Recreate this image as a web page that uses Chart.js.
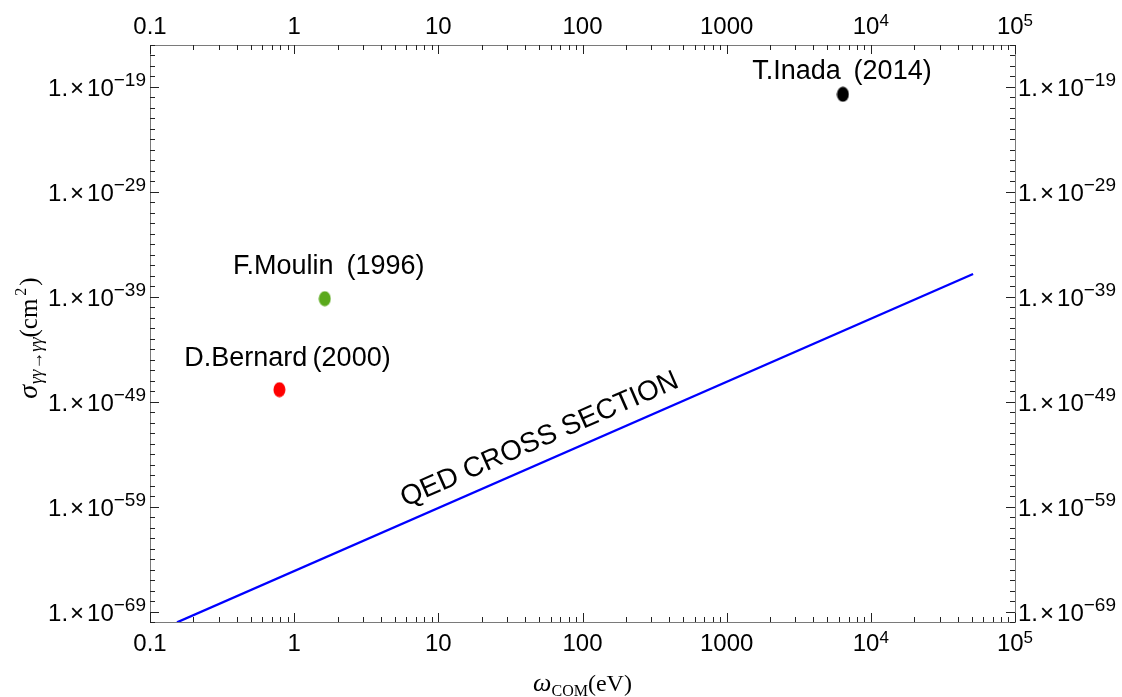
<!DOCTYPE html>
<html>
<head>
<meta charset="utf-8">
<script src="https://cdn.jsdelivr.net/npm/chart.js@4.4.1/dist/chart.umd.min.js"></script>
<style>
  html, body { margin: 0; padding: 0; background: #fff; }
</style>
</head>
<body>
<canvas id="qedChart" width="1122" height="697"></canvas>
<script>
// x axis: photon energy in centre of mass frame (eV)
const xMajor = [0.1, 1, 10, 100, 1000, 1e4, 1e5];
const xMajorBase = ["0.1", "1", "10", "100", "1000", "10", "10"];
const xMajorSup = ["", "", "", "", "", "4", "5"];

// y axis: cross section (cm^2)
const yMajor = [1e-19, 1e-29, 1e-39, 1e-49, 1e-59, 1e-69];
const yMajorExp = ["\u221219", "\u221229", "\u221239", "\u221249", "\u221259", "\u221269"];

// experimental upper limits
const expNames = ["T.Inada\u2009 (2014)", "F.Moulin\u2009 (1996)", "D.Bernard\u2009(2000)"];
const expEnergy = [6400, 1.63, 0.79];
const expSigma = [2e-20, 6.6e-40, 1.4e-48];
const expColors = ["#000000", "#5aa91b", "#ff0000"];

// QED prediction, read at the two ends of the line
const qedEnergy = [0.154, 51200];
const qedSigma = [9.3e-71, 1.5e-37];
const qedLabel = "QED CROSS SECTION";
const qedLabelAt = 58;

function ellipse(color) {
    const c = document.createElement('canvas');
    c.width = 13; c.height = 16;
    const g = c.getContext('2d');
    g.fillStyle = color;
    g.beginPath();
    g.ellipse(6.5, 8, 6, 7.5, 0, 0, Math.PI * 2);
    g.fill();
    return c;
}

const datasets = [{
    label: 'QED',
    data: qedEnergy.map((x, i) => ({ x: x, y: qedSigma[i] })),
    showLine: true,
    borderColor: '#0000ff',
    borderWidth: 2.3,
    pointRadius: 0
}];
expNames.forEach((n, i) => {
    datasets.push({
        label: n,
        data: [{ x: expEnergy[i], y: expSigma[i] }],
        pointStyle: ellipse(expColors[i]),
        pointRadius: 7
    });
});

const SANS = '"Liberation Sans", Arial, sans-serif';
const SERIF = '"Liberation Serif", "Times New Roman", serif';

// draw a row of text pieces (base + sub/superscripts)
function drawRuns(ctx, runs, x, y, align) {
    let total = 0;
    runs.forEach(r => {
        ctx.font = r.font;
        r.w = ctx.measureText(r.t).width;
        total += r.w + (r.gap || 0);
    });
    let cx = x;
    if (align === 'center') cx = x - total / 2;
    if (align === 'right') cx = x - total;
    runs.forEach(r => {
        ctx.font = r.font;
        ctx.fillText(r.t, cx, y + (r.dy || 0));
        cx += r.w + (r.gap || 0);
    });
}

const framePlugin = {
    id: 'frame',
    afterDraw(chart) {
        const ctx = chart.ctx;
        const a = chart.chartArea;
        const xs = chart.scales.x, ys = chart.scales.y;
        ctx.save();
        ctx.textAlign = 'left';
        ctx.textBaseline = 'alphabetic';

        // frame
        ctx.strokeStyle = '#7a7a7a';
        ctx.lineWidth = 1;
        ctx.strokeRect(a.left + 0.5, a.top + 0.5, a.right - a.left, a.bottom - a.top);

        // ticks
        ctx.strokeStyle = '#222';
        ctx.beginPath();
        for (let d = -1; d <= 5; d++) {
            for (let m = 1; m <= 9; m++) {
                const v = m * Math.pow(10, d);
                if (v > 1e5 * 1.0001) break;
                const px = Math.round(xs.getPixelForValue(v)) + 0.5;
                const len = m === 1 ? 9 : 5;
                ctx.moveTo(px, a.bottom); ctx.lineTo(px, a.bottom - len);
                ctx.moveTo(px, a.top); ctx.lineTo(px, a.top + len);
            }
        }
        for (let e = -70; e <= -15; e++) {
            const py = Math.round(ys.getPixelForValue(Math.pow(10, e))) + 0.5;
            const len = ((e + 19) % 10 === 0) ? 9 : 5;
            ctx.moveTo(a.left, py); ctx.lineTo(a.left + len, py);
            ctx.moveTo(a.right, py); ctx.lineTo(a.right - len, py);
        }
        ctx.stroke();

        ctx.fillStyle = '#000';
        // x tick labels, top and bottom
        xMajor.forEach((v, i) => {
            const px = xs.getPixelForValue(v);
            const runs = [{ t: xMajorBase[i], font: '24px ' + SANS }];
            if (xMajorSup[i]) runs.push({ t: xMajorSup[i], font: '17px ' + SANS, dy: -8 });
            drawRuns(ctx, runs, px, a.bottom + 29, 'center');
            drawRuns(ctx, runs.map(r => Object.assign({}, r)), px, a.top - 11, 'center');
        });
        // y tick labels, left and right
        yMajor.forEach((v, i) => {
            const py = ys.getPixelForValue(v);
            const runs = () => [
                { t: '1.', font: '24px ' + SANS, gap: 2 },
                { t: '\u00d7', font: '24px ' + SANS, gap: 3 },
                { t: '10', font: '24px ' + SANS },
                { t: yMajorExp[i], font: '19px ' + SANS, dy: -10 }
            ];
            drawRuns(ctx, runs(), a.left - 4, py + 9, 'right');
            drawRuns(ctx, runs(), a.right + 3, py + 9, 'left');
        });

        // axis titles
        drawRuns(ctx, [
            { t: '\u03c9', font: 'italic 26px ' + SERIF },
            { t: 'COM', font: '16px ' + SERIF, dy: 5 },
            { t: '(eV)', font: '24px ' + SERIF }
        ], (a.left + a.right) / 2, 691, 'center');

        ctx.save();
        ctx.translate(37, 338);
        ctx.rotate(-Math.PI / 2);
        drawRuns(ctx, [
            { t: '\u03c3', font: 'italic 28px ' + SERIF, gap: 1 },
            { t: '\u03b3\u03b3\u2192\u03b3\u03b3', font: 'italic 18px ' + SERIF, dy: 5 },
            { t: '(cm', font: '25px ' + SERIF, gap: 3 },
            { t: '2', font: '16px ' + SERIF, dy: -11, gap: 2 },
            { t: ')', font: '25px ' + SERIF }
        ], 0, 0, 'center');
        ctx.restore();

        // experiment labels
        const labelOffsets = [[-1, -15.5], [4, -24.5], [8, -24]];
        ctx.font = '27px ' + SANS;
        ctx.textAlign = 'center';
        expNames.forEach((n, i) => {
            const px = xs.getPixelForValue(expEnergy[i]);
            const py = ys.getPixelForValue(expSigma[i]);
            ctx.fillText(n, px + labelOffsets[i][0], py + labelOffsets[i][1]);
        });

        // label along the QED line
        const x0 = xs.getPixelForValue(qedEnergy[0]), y0 = ys.getPixelForValue(qedSigma[0]);
        const x1 = xs.getPixelForValue(qedEnergy[1]), y1 = ys.getPixelForValue(qedSigma[1]);
        const ang = Math.atan2(y1 - y0, x1 - x0);
        const lx = xs.getPixelForValue(qedLabelAt);
        const ly = y0 + (lx - x0) * (y1 - y0) / (x1 - x0);
        ctx.translate(lx, ly);
        ctx.rotate(ang);
        ctx.textBaseline = 'middle';
        ctx.font = '28px ' + SANS;
        ctx.fillText(qedLabel, 0, -22);
        ctx.restore();
    }
};

const ctx = document.getElementById('qedChart').getContext('2d');
const qedChart = new Chart(ctx, {
    type: 'scatter',
    data: { datasets: datasets },
    options: {
        responsive: false,
        animation: false,
        devicePixelRatio: 1,
        layout: { padding: { left: 150, right: 107, top: 45, bottom: 75 } },
        plugins: { legend: { display: false }, tooltip: { enabled: false } },
        scales: {
            x: { type: 'logarithmic', min: 0.1, max: 1e5, display: false },
            y: { type: 'logarithmic', min: 1e-70, max: 1e-15, display: false }
        }
    },
    plugins: [framePlugin]
});
</script>
</body>
</html>
